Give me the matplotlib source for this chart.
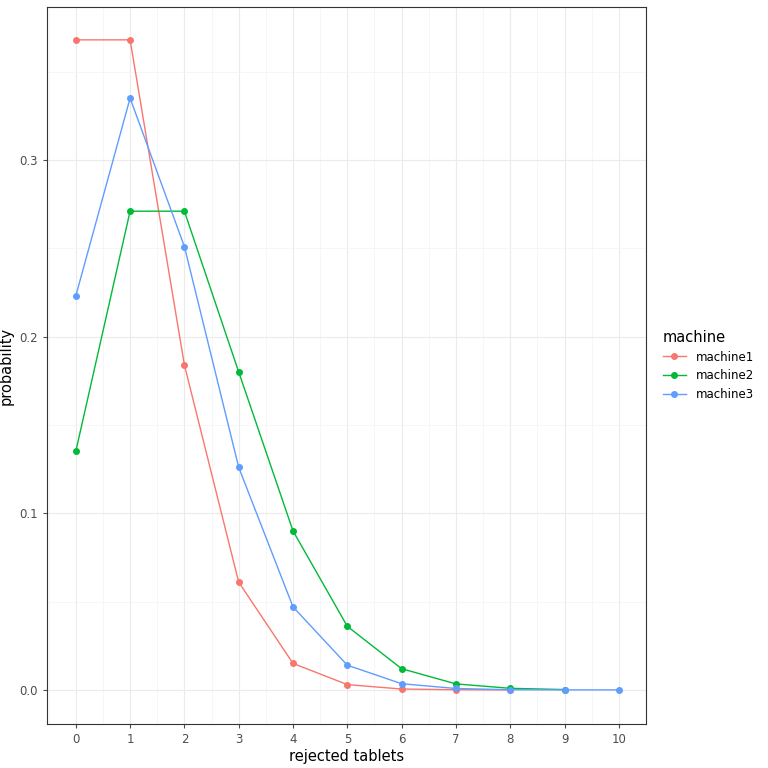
import matplotlib.pyplot as plt

x1 = list(range(0, 9))
p1 = [0.368, 0.368, 0.184, 0.061, 0.015, 0.003, 0.0005, 0.0001, 0.0]
x2 = list(range(0, 10))
p2 = [0.135, 0.271, 0.271, 0.180, 0.090, 0.036, 0.012, 0.0034, 0.0009, 0.0002]
x3 = list(range(0, 11))
p3 = [0.223, 0.335, 0.251, 0.126, 0.047, 0.014, 0.0035, 0.0008, 0.0001, 0.0, 0.0]
names = ["machine1", "machine2", "machine3"]
colors = ["#F8766D", "#00BA38", "#619CFF"]

fig = plt.figure(figsize=(7.68, 7.68), dpi=100)
ax = fig.add_axes([47/768, 44/768, 599/768, 717/768])
for xs, ps, c, n in zip([x1, x2, x3], [p1, p2, p3], colors, names):
    ax.plot(xs, ps, color=c, lw=1, marker="o", ms=4, label=n)

ax.set_xlim(-0.53, 10.5)
ax.set_ylim(-0.0193, 0.3866)
ax.set_xticks(range(0, 11))
ax.set_xticks([i + 0.5 for i in range(-1, 11)], minor=True)
ax.set_yticks([0.0, 0.1, 0.2, 0.3])
ax.set_yticklabels(["0.0", "0.1", "0.2", "0.3"])
ax.set_yticks([0.05, 0.15, 0.25, 0.35], minor=True)
ax.grid(True, which="major", color="#EBEBEB", lw=0.8)
ax.grid(True, which="minor", color="#F3F3F3", lw=0.5)
ax.set_axisbelow(True)
for s in ax.spines.values():
    s.set_color("#333333")
ax.tick_params(which="major", colors="#4D4D4D", labelsize=8.5, length=3)
ax.tick_params(which="minor", length=0)
ax.set_xlabel("rejected tablets", fontsize=10.5, labelpad=2)
ax.set_ylabel("probability", fontsize=10.5, labelpad=4)
leg = ax.legend(loc="center left", bbox_to_anchor=(1.01, 0.5), frameon=False,
                title="machine", fontsize=8.5, title_fontsize=10.5, handlelength=2)
leg._legend_box.align = "left"
fig.savefig("out.png", dpi=100)
